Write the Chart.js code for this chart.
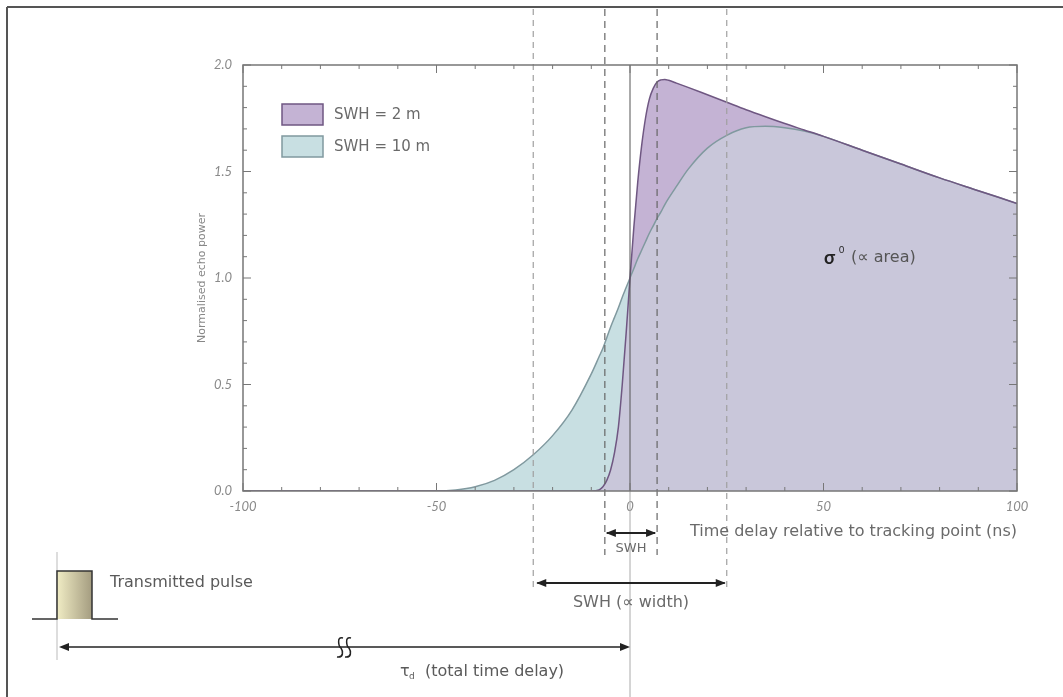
<!DOCTYPE html>
<html>
<head>
<meta charset="utf-8">
<script src="https://cdn.jsdelivr.net/npm/chart.js@4"></script>
<style>
html, body { margin: 0; padding: 0; background: #fff; }
#wrap { width: 1063px; height: 697px; position: relative; }
</style>
</head>
<body>
<div id="wrap"><canvas id="echoChart"></canvas></div>
<script>
// time delay (ns) and normalised echo power
const delays = [-100, -90, -80, -70, -60, -50, -45, -40, -35, -30, -25, -20, -15, -10,
	-8, -7, -6, -5, -4, -3, -2, -1, 0, 1, 2, 3, 4, 5, 6, 7, 8, 9, 10,
	12, 15, 20, 25, 30, 35, 40, 45, 50, 60, 70, 80, 90, 100];
const swh2 = [0, 0, 0, 0, 0, 0, 0, 0, 0, 0, 0, 0, 0, 0,
	0.005, 0.02, 0.05, 0.1, 0.18, 0.3, 0.5, 0.74,
	1.0, 1.24, 1.45, 1.62, 1.75, 1.84, 1.89, 1.92, 1.93, 1.932, 1.928,
	1.915, 1.895, 1.86, 1.825, 1.79, 1.757, 1.725, 1.695, 1.665,
	1.6, 1.535, 1.47, 1.41, 1.35];
const swh10 = [0, 0, 0, 0, 0, 0, 0.005, 0.02, 0.05, 0.1, 0.17, 0.26, 0.38, 0.55,
	0.63, 0.67, 0.72, 0.77, 0.815, 0.86, 0.91, 0.955,
	1.0, 1.045, 1.09, 1.13, 1.17, 1.21, 1.245, 1.28, 1.31, 1.345, 1.375,
	1.43, 1.51, 1.61, 1.67, 1.705, 1.712, 1.705, 1.69, 1.665,
	1.6, 1.535, 1.47, 1.41, 1.35];
const xTicks = [-100, -50, 0, 50, 100];
const yTicks = [0, 0.5, 1, 1.5, 2];
const markerDelays = [-25, -6.5, 7, 25];
const legendLabels = ["SWH = 2 m", "SWH = 10 m"];

const FONT = "Lato, 'DejaVu Sans', sans-serif";
const NOTE = "'DejaVu Sans', sans-serif";
const purpleFill = "#c4b3d4";
const purpleLine = "#6f5782";
const tealFill = "#c8dfe2";
const tealLine = "#80999f";
const overlapFill = "#c9c7da";

const toPoints = ys => delays.map((x, i) => ({ x: x, y: ys[i] }));
const overlap = swh2.map((v, i) => Math.min(v, swh10[i]));

function line(ctx, x1, y1, x2, y2) {
	ctx.beginPath();
	ctx.moveTo(x1, y1);
	ctx.lineTo(x2, y2);
	ctx.stroke();
}
function head(ctx, x, y, dir) {
	ctx.beginPath();
	ctx.moveTo(x, y);
	ctx.lineTo(x - dir * 10, y - 4);
	ctx.lineTo(x - dir * 10, y + 4);
	ctx.closePath();
	ctx.fill();
}

const decor = {
	id: "decor",
	afterDraw(chart) {
		const { ctx, chartArea: a, scales } = chart;
		const x = scales.x, y = scales.y;
		ctx.save();

		// frame
		ctx.strokeStyle = "#555";
		ctx.lineWidth = 2;
		line(ctx, 7, 7, 1063, 7);
		line(ctx, 7, 7, 7, 697);

		// dashed markers
		ctx.lineWidth = 1.2;
		markerDelays.forEach(d => {
			const px = x.getPixelForValue(d);
			const outer = Math.abs(d) > 20;
			ctx.strokeStyle = outer ? "#a0a0a0" : "#666";
			ctx.setLineDash(outer ? [6, 5] : [7, 5]);
			line(ctx, px, 9, px, outer ? 592 : 555);
		});
		ctx.setLineDash([]);

		// tracking point
		const x0 = x.getPixelForValue(0);
		ctx.strokeStyle = "#555";
		ctx.lineWidth = 1;
		line(ctx, x0, a.top, x0, a.bottom);
		ctx.strokeStyle = "#aaa";
		line(ctx, x0, a.bottom, x0, 697);

		// box and inward ticks
		ctx.strokeStyle = "#777";
		ctx.lineWidth = 1.5;
		ctx.strokeRect(a.left, a.top, a.width, a.height);
		ctx.lineWidth = 1;
		for (let v = -100; v <= 100; v += 10) {
			const px = x.getPixelForValue(v);
			const len = v % 50 === 0 ? 8 : 4;
			line(ctx, px, a.bottom, px, a.bottom - len);
			line(ctx, px, a.top, px, a.top + len);
		}
		for (let k = 0; k <= 20; k++) {
			const py = y.getPixelForValue(k / 10);
			const len = k % 5 === 0 ? 8 : 4;
			line(ctx, a.left, py, a.left + len, py);
			line(ctx, a.right, py, a.right - len, py);
		}

		// legend
		const lx = a.left + 39, ly = a.top + 39;
		[[purpleFill, purpleLine], [tealFill, tealLine]].forEach((c, i) => {
			ctx.fillStyle = c[0];
			ctx.strokeStyle = c[1];
			ctx.lineWidth = 1.5;
			ctx.fillRect(lx, ly + i * 32, 41, 21);
			ctx.strokeRect(lx, ly + i * 32, 41, 21);
			ctx.fillStyle = "#6a6a6a";
			ctx.font = "15px " + NOTE;
			ctx.textAlign = "left";
			ctx.textBaseline = "middle";
			ctx.fillText(legendLabels[i], lx + 52, ly + 11 + i * 32);
		});

		// sigma annotation
		ctx.fillStyle = "#222";
		ctx.font = "bold 18px " + FONT;
		ctx.fillText("σ", 824, 258);
		ctx.font = "9px " + FONT;
		ctx.fillText("0", 839, 250);
		ctx.fillStyle = "#555";
		ctx.font = "16px " + NOTE;
		ctx.fillText("(∝ area)", 851, 258);

		// axis titles
		ctx.fillStyle = "#6a6a6a";
		ctx.font = "16px " + NOTE;
		ctx.textAlign = "right";
		ctx.fillText("Time delay relative to tracking point (ns)", a.right, 532);
		ctx.save();
		ctx.translate(202, (a.top + a.bottom) / 2);
		ctx.rotate(-Math.PI / 2);
		ctx.textAlign = "center";
		ctx.fillStyle = "#888";
		ctx.font = "11px " + NOTE;
		ctx.fillText("Normalised echo power", 0, 0);
		ctx.restore();

		// SWH arrows
		const xa = x.getPixelForValue(markerDelays[1]);
		const xb = x.getPixelForValue(markerDelays[2]);
		const xc = x.getPixelForValue(markerDelays[0]);
		const xd = x.getPixelForValue(markerDelays[3]);
		ctx.strokeStyle = "#222";
		ctx.fillStyle = "#222";
		ctx.lineWidth = 2;
		line(ctx, xa + 2, 533, xb - 2, 533);
		head(ctx, xa + 1, 533, -1);
		head(ctx, xb - 1, 533, 1);
		line(ctx, xc + 4, 583, xd - 2, 583);
		head(ctx, xc + 3, 583, -1);
		head(ctx, xd - 1, 583, 1);
		ctx.fillStyle = "#6a6a6a";
		ctx.textAlign = "center";
		ctx.font = "13px " + NOTE;
		ctx.fillText("SWH", (xa + xb) / 2, 549);
		ctx.font = "16px " + NOTE;
		ctx.fillText("SWH (∝ width)", (xc + xd) / 2 + 1, 603);

		// transmitted pulse
		ctx.strokeStyle = "#bbb";
		ctx.lineWidth = 1;
		line(ctx, 57, 552, 57, 660);
		const g = ctx.createLinearGradient(57, 0, 92, 0);
		g.addColorStop(0, "#f0ecc4");
		g.addColorStop(1, "#a49c80");
		ctx.fillStyle = g;
		ctx.fillRect(57, 571, 35, 48);
		ctx.strokeStyle = "#333";
		ctx.lineWidth = 1.5;
		ctx.beginPath();
		ctx.moveTo(32, 619);
		ctx.lineTo(57, 619);
		ctx.lineTo(57, 571);
		ctx.lineTo(92, 571);
		ctx.lineTo(92, 619);
		ctx.lineTo(118, 619);
		ctx.stroke();
		ctx.fillStyle = "#5a5a5a";
		ctx.textAlign = "left";
		ctx.font = "16px " + NOTE;
		ctx.fillText("Transmitted pulse", 110, 583);

		// total delay arrow with break
		ctx.strokeStyle = "#222";
		ctx.fillStyle = "#222";
		ctx.lineWidth = 1.5;
		line(ctx, 62, 647, x0 - 4, 647);
		head(ctx, 59, 647, -1);
		head(ctx, x0, 647, 1);
		[338, 346].forEach(sx => {
			ctx.beginPath();
			ctx.moveTo(sx + 5, 638);
			ctx.bezierCurveTo(sx - 2, 636, sx + 1, 647, sx + 3, 648);
			ctx.bezierCurveTo(sx + 5, 651, sx + 6, 658, sx - 1, 657);
			ctx.stroke();
		});
		ctx.fillStyle = "#5a5a5a";
		ctx.font = "16px " + NOTE;
		ctx.fillText("τ", 400, 672);
		ctx.font = "9px " + NOTE;
		ctx.fillText("d", 409, 677);
		ctx.font = "16px " + NOTE;
		ctx.fillText("(total time delay)", 425, 672);
		ctx.restore();
	}
};

const ctxEl = document.getElementById("echoChart");
new Chart(ctxEl, {
	type: "line",
	data: {
		datasets: [
			{ label: legendLabels[0], data: toPoints(swh2), borderColor: purpleLine, borderWidth: 1.5, fill: false },
			{ label: legendLabels[1], data: toPoints(swh10), borderColor: tealLine, borderWidth: 1.5, fill: false },
			{ label: "overlap", data: toPoints(overlap), borderColor: "transparent", borderWidth: 0, backgroundColor: overlapFill, fill: "origin" },
			{ label: "fill2", data: toPoints(swh2), borderColor: "transparent", borderWidth: 0, backgroundColor: purpleFill, fill: "origin" },
			{ label: "fill10", data: toPoints(swh10), borderColor: "transparent", borderWidth: 0, backgroundColor: tealFill, fill: "origin" },
		],
	},
	options: {
		responsive: true,
		maintainAspectRatio: false,
		animation: false,
		elements: {
			point: { radius: 0 },
			line: { cubicInterpolationMode: "monotone" },
		},
		layout: { padding: { left: 183, right: 46, top: 65, bottom: 176 } },
		plugins: {
			legend: { display: false },
			tooltip: { enabled: false },
		},
		scales: {
			x: {
				type: "linear",
				min: -100,
				max: 100,
				afterBuildTicks: s => { s.ticks = xTicks.map(v => ({ value: v })); },
				afterFit: s => { s.height = 30; },
				grid: { drawOnChartArea: false, drawTicks: false },
				border: { display: false },
				ticks: {
					padding: 8,
					color: "#8a8a8a",
					font: { family: FONT, size: 13, style: "italic" },
					maxRotation: 0,
				},
			},
			y: {
				min: 0,
				max: 2,
				afterBuildTicks: s => { s.ticks = yTicks.map(v => ({ value: v })); },
				afterFit: s => { s.width = 60; },
				grid: { drawOnChartArea: false, drawTicks: false },
				border: { display: false },
				ticks: {
					padding: 11,
					color: "#8a8a8a",
					font: { family: FONT, size: 13, style: "italic" },
					callback: v => v.toFixed(1),
				},
			},
		},
	},
	plugins: [decor],
});
</script>
</body>
</html>
